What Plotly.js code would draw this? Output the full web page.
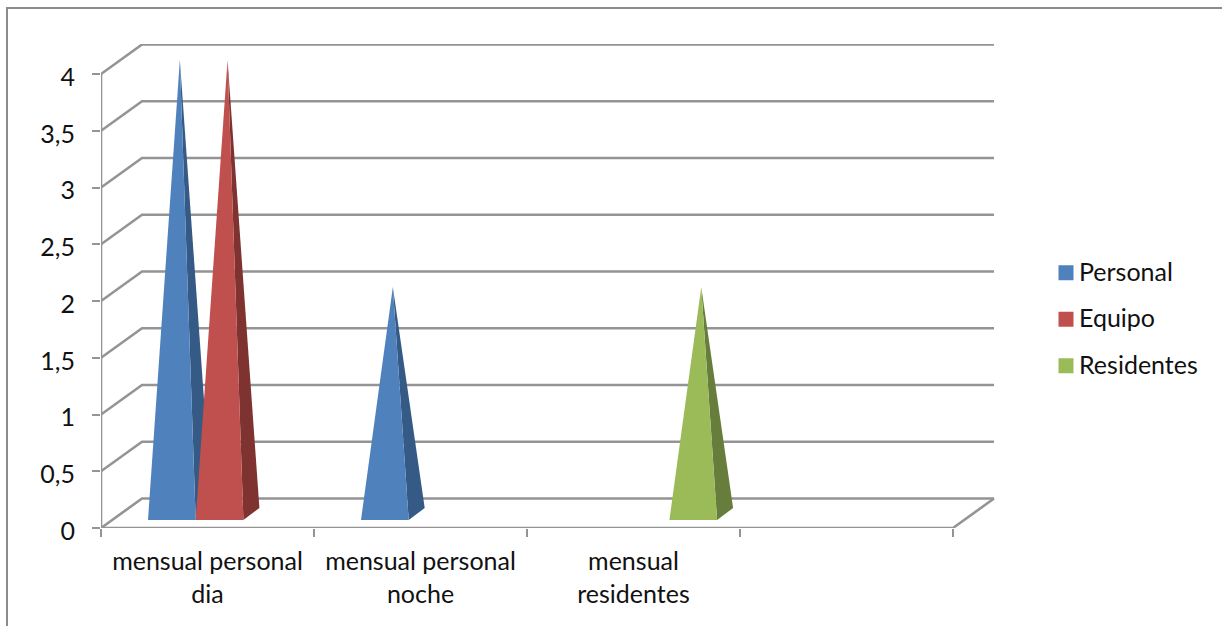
<!DOCTYPE html>
<html>
<head>
<meta charset="utf-8">
<script src="https://cdn.plot.ly/plotly-3.0.1.min.js"></script>
<style>html,body{margin:0;padding:0;background:#fff}#c{width:1222px;height:626px}</style>
</head>
<body>
<div id="c"></div>
<script>
const categories = ["mensual personal<br>dia", "mensual personal<br>noche", "mensual<br>residentes"];
const seriesNames = ["Personal", "Equipo", "Residentes"];
const personal = [4, 2, 0];
const equipo = [4, 0, 0];
const residentes = [0, 0, 2];
const yTicks = [0, 0.5, 1, 1.5, 2, 2.5, 3, 3.5, 4];
const xBoundaries = [0, 1, 2, 3, 4];
const frontColors = ["#4F81BD", "#C0504D", "#9BBB59"];
const sideColors = ["#355A85", "#7F3331", "#677D3B"];

const W = 1222, H = 626;
const plotL = 101, plotR = 995, plotT = 44, plotB = 528;
const pxX = 213, pxY = 113.5;
const wallDx = 41 / pxX, wallDy = 29.5 / pxY;
const slotStart = 47 / pxX, slotW = 47.7 / pxX;
const baseY = 8 / pxY, depthX = 16 / pxX, depthY = 12 / pxY;
const GRID = "#949494", INK = "#111111";
const FONT = "Lato, 'Open Sans', sans-serif";
const FS = 25;

const traces = [];
const gx = [], gy = [];
yTicks.forEach(v => {
  gx.push(0, wallDx, 4 + wallDx, null);
  gy.push(v, v + wallDy, v + wallDy, null);
});
gx.push(0, 0, null, 0, 4, 4 + wallDx);
gy.push(0, 4, null, 0, 0, wallDy);
traces.push({type: "scatter", mode: "lines", x: gx, y: gy, cliponaxis: false,
  line: {color: GRID, width: 2.6}, showlegend: false, hoverinfo: "skip"});

[personal, equipo, residentes].forEach((vals, s) => {
  vals.forEach((v, c) => {
    if (!v) return;
    const x0 = c + slotStart + s * slotW, x1 = x0 + slotW;
    const ax = (x0 + x1 + depthX) / 2, b = baseY, ay = b + depthY / 2 + v;
    traces.push({type: "scatter", mode: "lines", fill: "toself", fillcolor: sideColors[s],
      x: [x1, x1 + depthX, ax, x1], y: [b, b + depthY, ay, b],
      line: {width: 0, color: sideColors[s]}, showlegend: false, hoverinfo: "skip", cliponaxis: false});
    traces.push({type: "scatter", mode: "lines", fill: "toself", fillcolor: frontColors[s],
      x: [x0, x1, ax, x0], y: [b, b, ay, b],
      line: {width: 0, color: frontColors[s]}, showlegend: false, hoverinfo: "skip", cliponaxis: false});
  });
});

seriesNames.forEach((name, s) => {
  traces.push({type: "scatter", mode: "markers", name: name, x: [null], y: [null], legendgroup: name,
    marker: {symbol: "square", size: 15, color: frontColors[s]}, hoverinfo: "skip"});
});
traces.push({type: "scatter", mode: "markers", x: [0.5], y: [0], xaxis: "x2", opacity: 0,
  marker: {size: 1}, showlegend: false, hoverinfo: "skip"});

const xRange = [0, (plotR - plotL) / pxX];
const paperX = p => (p - plotL) / (plotR - plotL);
const paperY = p => (plotB - p) / (plotB - plotT);

const layout = {
  width: W, height: H, autosize: false,
  paper_bgcolor: "#fff", plot_bgcolor: "#fff",
  separators: ", ",
  margin: {l: plotL, r: W - plotR, t: plotT, b: H - plotB, pad: 0},
  font: {family: FONT, size: FS, color: INK},
  xaxis: {range: xRange, tickmode: "array", tickvals: xBoundaries, ticktext: xBoundaries.map(() => ""),
    ticks: "outside", ticklen: 8, tickwidth: 1.6, tickcolor: GRID, showgrid: false, zeroline: false, showline: false, fixedrange: true},
  xaxis2: {range: xRange, overlaying: "x", side: "bottom", tickmode: "array",
    tickvals: categories.map((_, i) => i + 0.5), ticktext: categories, ticks: "", ticklabelstandoff: 16,
    tickangle: 0, showgrid: false, zeroline: false, showline: false, fixedrange: true,
    tickfont: {family: FONT, size: FS, color: INK}},
  yaxis: {range: [0, (plotB - plotT) / pxY], tickmode: "array", tickvals: yTicks,
    ticktext: yTicks.map(v => String(v).replace(".", ",")), ticks: "outside", ticklen: 8, tickwidth: 2, tickcolor: GRID,
    ticklabelstandoff: 12, ticklabelshift: 3, showgrid: false, zeroline: false, showline: false, fixedrange: true,
    tickfont: {family: FONT, size: FS, color: INK}},
  legend: {x: paperX(1046), xanchor: "left", y: paperY(250), yanchor: "top", tracegroupgap: 11, borderwidth: 0,
    bgcolor: "rgba(0,0,0,0)", font: {family: FONT, size: FS, color: INK}},
  shapes: [{type: "path", xref: "paper", yref: "paper", layer: "below",
    path: `M ${paperX(7)} ${paperY(H)} L ${paperX(7)} ${paperY(8)} L ${paperX(W)} ${paperY(8)}`,
    line: {color: "#8C8C8C", width: 2}}]
};

Plotly.newPlot("c", traces, layout, {displayModeBar: false, staticPlot: true}).then(gd => {
  gd.querySelectorAll(".legendtext").forEach(t => {
    t.setAttribute("x", parseFloat(t.getAttribute("x")) - 7);
    t.setAttribute("y", parseFloat(t.getAttribute("y")) - 2);
  });
});
</script>
</body>
</html>
